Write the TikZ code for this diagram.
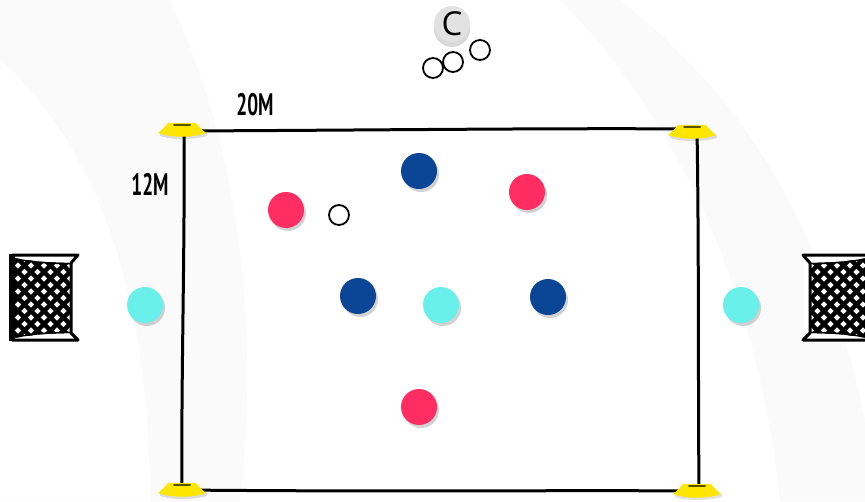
\documentclass[tikz,border=0pt]{standalone}
\usepackage{fontspec}
\usepackage{graphicx}
\setmainfont{PT Sans}
\newfontfamily\cfont{Open Sans}
\usetikzlibrary{shadows}
\definecolor{pinkp}{HTML}{FF2D62}
\definecolor{navyp}{HTML}{0B4595}
\definecolor{cyanp}{HTML}{6AF0EA}
\definecolor{coney}{HTML}{FFE600}
\definecolor{coneslot}{HTML}{5A5000}
\definecolor{wm}{HTML}{FAFAFA}
\definecolor{coachg}{HTML}{E2E2E2}
\tikzset{
  player/.style={circle, minimum size=36pt, inner sep=0pt, draw=none,
    drop shadow={opacity=0.35, shadow xshift=2pt, shadow yshift=-3pt}},
  pinkpl/.style={player, fill=pinkp},
  navypl/.style={player, fill=navyp},
  cyanpl/.style={player, fill=cyanp},
  ball/.style={circle, minimum size=20pt, inner sep=0pt, draw=black, line width=1.8pt, fill=white},
  coach/.style={circle, minimum size=36pt, inner sep=0pt, fill=coachg,
    drop shadow={opacity=0.3, shadow xshift=0pt, shadow yshift=-5pt}},
  dist/.style={inner sep=0pt},
  fieldline/.style={line width=3pt, line cap=round},
  netline/.style={line width=4.5pt},
  cone/.pic={
    \fill[black, opacity=0.12] (-22,6) .. controls (-10,10) and (10,10) .. (25,6) -- (25,3) -- (-22,3) -- cycle;
    \fill[coney] (-14,-7) -- (14,-7) .. controls (18,-2) .. (24,3) .. controls (10,8) and (-10,8) .. (-24,3) .. controls (-18,-2) .. cycle;
    \draw[coneslot, line width=2pt, line cap=round] (-8,-5) -- (8,-5);
  },
  goal/.pic={
    \fill[white] (-32,-43) rectangle (34,42);
    \begin{scope}
      \clip (-31,-40) .. controls (-4,-36) .. (27,-35) -- (27,35) .. controls (-4,36) .. (-31,40) -- cycle;
      \foreach \k in {-9,...,9} {
        \draw[netline] (\k*13-48,-48) -- ++(96,96);
        \draw[netline] (\k*13+48,-48) -- ++(-96,96);
      }
      \draw[line width=3pt] (-31,-40) .. controls (-4,-36) .. (27,-35);
      \draw[line width=3pt] (-31,40) .. controls (-4,36) .. (27,35);
    \end{scope}
    \draw[line width=3pt, line join=round] (-32,-43) -- (34,-43) -- (27,-35) -- (27,35) -- (34,42) -- (-32,42);
    \draw[line width=6pt] (-32,-44) -- (-32,43);
  }
}
\begin{document}
\begin{tikzpicture}[x=1pt, y=-1pt]
\useasboundingbox (0,0) rectangle (865,501);
\fill[white] (0,0) rectangle (865,501);
% faint watermark
\fill[wm] (0,0) -- (170,0) .. controls (240,150) and (260,330) .. (240,501) -- (0,501) -- cycle;
\fill[white] (0,60) .. controls (100,150) and (150,300) .. (150,501) -- (0,501) -- cycle;
\fill[wm] (560,0) -- (865,0) -- (865,501) -- (780,501) .. controls (760,300) and (680,120) .. (560,0) -- cycle;
\fill[white] (620,0) -- (865,0) -- (865,420) .. controls (830,250) and (760,110) .. (620,0) -- cycle;

% field corners
\coordinate (tl) at (184,131);
\coordinate (tr) at (697,129);
\coordinate (bl) at (182,490);
\coordinate (br) at (699,491);
\draw[fieldline] (tl) .. controls (400,130) and (550,128) .. (tr);
\draw[fieldline] (tl) .. controls (185,250) and (181,380) .. (bl);
\draw[fieldline] (tr) .. controls (699,250) and (698,380) .. (br);
\draw[fieldline] (bl) .. controls (400,492) and (550,490) .. (br);

\pic at (182,130) {cone};
\pic at (692,132) {cone};
\pic at (182,490) {cone};
\pic at (697,491) {cone};

\node[dist] (l20) at (255,105) {\fontsize{31}{31}\selectfont\scalebox{0.62}[1]{\bfseries 20M}};
\node[dist] (l12) at (150,184) {\fontsize{31}{31}\selectfont\scalebox{0.62}[1]{\bfseries 12M}};

% goals
\pic at (44,298) {goal};
\pic[xscale=-1] at (837,298) {goal};

% coach and balls
\node[coach] (c) at (452,24) {\cfont\fontsize{33}{33}\selectfont C};
\node[ball] (b1) at (433,68) {};
\node[ball] (b2) at (453,62) {};
\node[ball] (b3) at (480,50) {};
\node[ball] (b4) at (339,215) {};

% players
\node[pinkpl] (p1) at (286,210) {};
\node[pinkpl] (p2) at (527,192) {};
\node[pinkpl] (p3) at (419,407) {};
\node[navypl] (n1) at (419,171) {};
\node[navypl] (n2) at (358,296) {};
\node[navypl] (n3) at (548,297) {};
\node[cyanpl] (y1) at (145,305) {};
\node[cyanpl] (y2) at (441,305) {};
\node[cyanpl] (y3) at (741,305) {};
\end{tikzpicture}
\end{document}
